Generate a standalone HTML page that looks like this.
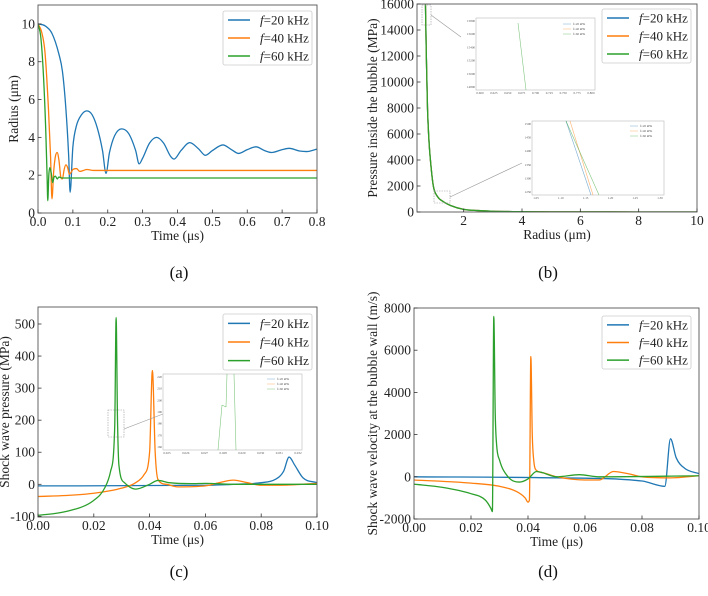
<!DOCTYPE html>
<html><head><meta charset="utf-8"><style>
body{margin:0;background:#fff;width:708px;height:591px;overflow:hidden}
svg{font-family:"Liberation Serif",serif}
</style></head><body>
<svg id="fig" width="708" height="591" viewBox="0 0 708 591"></svg>
<script>
// ---- Panel (a) data: radius vs time ----
const aBlueT=[0,0.02,0.04,0.06,0.07,0.08,0.088,0.092,0.1,0.11,0.125,0.14,0.155,0.17,0.185,0.195,0.205,0.22,0.24,0.26,0.28,0.29,0.3,0.32,0.34,0.36,0.38,0.39,0.41,0.435,0.46,0.48,0.5,0.53,0.555,0.575,0.6,0.625,0.65,0.67,0.7,0.72,0.75,0.77,0.8];
const aBlueR=[10,9.9,9.5,8.4,7.5,5.5,3,1.1,3.5,4.6,5.2,5.4,5.2,4.5,3.3,2.1,3.2,4.1,4.45,4.2,3.3,2.6,2.9,3.7,4.0,3.7,3.0,2.85,3.3,3.72,3.4,3.05,3.3,3.6,3.35,3.15,3.35,3.5,3.3,3.2,3.35,3.42,3.28,3.25,3.38];
const aOrangeT=[0,0.01,0.02,0.03,0.036,0.04,0.045,0.05,0.055,0.06,0.066,0.07,0.075,0.08,0.085,0.09,0.095,0.1,0.11,0.12,0.13,0.14,0.16,0.8];
const aOrangeR=[10,9.6,8.5,5.5,3,0.75,2.2,3.0,3.2,2.8,1.85,1.8,2.3,2.55,2.4,2.05,2.15,2.3,2.35,2.2,2.25,2.3,2.25,2.25];
const aGreenT=[0,0.008,0.015,0.022,0.026,0.028,0.031,0.034,0.038,0.042,0.046,0.05,0.055,0.06,0.07,0.8];
const aGreenR=[10,9.3,7.5,4.5,2,0.65,2,2.4,2.1,1.6,1.9,1.95,1.8,1.9,1.85,1.85];
const aXTicks=[0,0.1,0.2,0.3,0.4,0.5,0.6,0.7,0.8];
const aXLabels=["0.0","0.1","0.2","0.3","0.4","0.5","0.6","0.7","0.8"];
const aYTicks=[0,2,4,6,8,10];
// ---- Panel (b) data: pressure vs radius ----
const bR=[0.69,0.72,0.76,0.81,0.86,0.96,1.1,1.3,1.55,2,2.5,3,4,6,10];
const bP=[16000,12000,8000,5500,4000,2000,1200,800,500,200,110,60,25,6,1];
const bXTicks=[2,4,6,8,10];
const bYTicks=[0,2000,4000,6000,8000,10000,12000,14000,16000];
// ---- Panel (c) data: shock wave pressure ----
const cBlueT=[0,0.06,0.07,0.08,0.085,0.088,0.09,0.092,0.095,0.1];
const cBlueP=[-5,-3,0,5,15,40,85,60,20,5];
const cOrangeT=[0,0.01,0.02,0.03,0.035,0.038,0.04,0.041,0.042,0.043,0.046,0.05,0.06,0.065,0.07,0.075,0.08,0.09,0.1];
const cOrangeP=[-38,-35,-28,-12,5,30,100,355,100,15,0,-8,-5,5,13,5,-3,-2,3];
const cGreenT=[0,0.01,0.02,0.024,0.026,0.0275,0.028,0.0285,0.029,0.031,0.035,0.04,0.043,0.047,0.055,0.06,0.07,0.1];
const cGreenP=[-97,-85,-50,-10,40,180,520,200,60,5,-15,0,12,5,2,3,0,0];
const cXTicks=[0,0.02,0.04,0.06,0.08,0.1];
const cXLabels=["0.00","0.02","0.04","0.06","0.08","0.10"];
const cYTicks=[-100,0,100,200,300,400,500];
// ---- Panel (d) data: shock wave velocity ----
const dBlueT=[0,0.05,0.08,0.088,0.09,0.092,0.095,0.1];
const dBlueV=[0,-50,-200,-450,1800,900,400,150];
const dOrangeT=[0,0.02,0.03,0.036,0.039,0.04,0.0405,0.041,0.0415,0.042,0.043,0.045,0.05,0.06,0.065,0.07,0.075,0.08,0.09,0.1];
const dOrangeV=[-150,-300,-450,-700,-1000,-1200,-1100,5700,2000,800,300,200,0,-150,-150,250,150,0,-50,50];
const dGreenT=[0,0.01,0.02,0.025,0.027,0.0275,0.028,0.0285,0.029,0.03,0.033,0.037,0.04,0.043,0.045,0.05,0.058,0.065,0.1];
const dGreenV=[-350,-500,-800,-1100,-1500,-1650,7600,3000,1500,800,0,-250,-100,250,200,0,100,0,50];
const dYTicks=[-2000,0,2000,4000,6000,8000];
const legendLabels=["=20 kHz","=40 kHz","=60 kHz"];

const C={b:"#1f77b4",o:"#ff7f0e",g:"#2ca02c"};
const NS="http://www.w3.org/2000/svg";
const svg=document.getElementById('fig');
function mk(tag,attrs,parent){const e=document.createElementNS(NS,tag);for(const k in attrs)e.setAttribute(k,attrs[k]);(parent||svg).appendChild(e);return e;}

// monotone cubic path (Fritsch-Carlson) in pixel space
function monoPath(P){
  const n=P.length;if(n<2)return '';
  const d=[],m=[];
  for(let i=0;i<n-1;i++){const dx=P[i+1][0]-P[i][0];d.push(dx===0?0:(P[i+1][1]-P[i][1])/dx);}
  m[0]=d[0];m[n-1]=d[n-2];
  for(let i=1;i<n-1;i++){m[i]=(d[i-1]*d[i]<=0)?0:(d[i-1]+d[i])/2;}
  for(let i=0;i<n-1;i++){
    if(d[i]===0){m[i]=0;m[i+1]=0;continue;}
    const a=m[i]/d[i],b=m[i+1]/d[i],s=a*a+b*b;
    if(s>9){const t=3/Math.sqrt(s);m[i]=t*a*d[i];m[i+1]=t*b*d[i];}
  }
  let s='M'+P[0][0].toFixed(2)+','+P[0][1].toFixed(2);
  for(let i=0;i<n-1;i++){
    const h=(P[i+1][0]-P[i][0])/3;
    s+=' C'+(P[i][0]+h).toFixed(2)+','+(P[i][1]+m[i]*h).toFixed(2)+' '+(P[i+1][0]-h).toFixed(2)+','+(P[i+1][1]-m[i+1]*h).toFixed(2)+' '+P[i+1][0].toFixed(2)+','+P[i+1][1].toFixed(2);
  }
  return s;
}

function panel(cfg){
  const g=mk('g',{});
  
  
  const sx=v=>cfg.x0+(v-cfg.xmin)/(cfg.xmax-cfg.xmin)*(cfg.x1-cfg.x0);
  const sy=v=>cfg.y1-(v-cfg.ymin)/(cfg.ymax-cfg.ymin)*(cfg.y1-cfg.y0);
  const clip='clip-'+cfg.name;
  const cp=mk('clipPath',{id:clip},g);
  mk('rect',{x:cfg.x0,y:cfg.y0,width:cfg.x1-cfg.x0,height:cfg.y1-cfg.y0},cp);
  cfg.series.forEach(s=>{
    const pts=s.xs.map((x,i)=>[sx(x),sy(s.ys[i])]);
    const pl=mk('path',{d:monoPath(pts),fill:'none',stroke:s.color,'stroke-width':1.3,'clip-path':'url(#'+clip+')','stroke-linejoin':'round'},g);
    
    
  });
  const fr=mk('rect',{x:cfg.x0,y:cfg.y0,width:cfg.x1-cfg.x0,height:cfg.y1-cfg.y0,fill:'none',stroke:'#555','stroke-width':0.9},g);
  
  
  cfg.xt.forEach((t,i)=>{
    const X=sx(t);
    mk('line',{x1:X,x2:X,y1:cfg.y1,y2:cfg.y1-3.5,stroke:'#333','stroke-width':0.8},g);
    const tx=mk('text',{x:X,y:cfg.y1+13,'font-size':13.5,'text-anchor':'middle',fill:'#222'},g);
    tx.textContent=cfg.xl?cfg.xl[i]:String(t);
    
    
  });
  cfg.yt.forEach(t=>{
    const Y=sy(t);
    mk('line',{x1:cfg.x0,x2:cfg.x0+3.5,y1:Y,y2:Y,stroke:'#333','stroke-width':0.8},g);
    const tx=mk('text',{x:cfg.x0-3,y:Y+4.5,'font-size':13.5,'text-anchor':'end',fill:'#222'},g);
    tx.textContent=String(t);
    
    
  });
  const xl=mk('text',{x:(cfg.x0+cfg.x1)/2,y:cfg.y1+27,'font-size':13.5,'text-anchor':'middle',fill:'#222'},g);
  xl.textContent=cfg.xlabel;
  
  
  const yl=mk('text',{x:0,y:0,'font-size':13.5,'text-anchor':'middle',fill:'#222',transform:`translate(${cfg.ylx},${(cfg.y0+cfg.y1)/2}) rotate(-90)`},g);
  yl.textContent=cfg.ylabel;
  
  
  const L=cfg.leg;
  const lg=mk('g',{},g);
  
  
  mk('rect',{x:L[0],y:L[1],width:L[2]-L[0],height:L[3]-L[1],fill:'#fff',stroke:'#ccc','stroke-width':0.8,rx:2},lg);
  const cols=[C.b,C.o,C.g];
  const step=(L[3]-L[1])/3;
  cols.forEach((c,i)=>{
    const Y=L[1]+step*(i+0.5);
    mk('line',{x1:L[0]+5,x2:L[0]+27,y1:Y,y2:Y,stroke:c,'stroke-width':1.5},lg);
    const t=mk('text',{x:L[0]+37,y:Y+4.5,'font-size':13,fill:'#222'},lg);
    t.innerHTML='<tspan font-style="italic">f</tspan>'+legendLabels[i];
    
    
  });
  return {sx,sy,g};
}

panel({name:'panel-a',x0:38,x1:317,y0:5,y1:213,xmin:0,xmax:0.8,ymin:0,ymax:11,
  xt:aXTicks,xl:aXLabels,yt:aYTicks,xlabel:'Time (μs)',ylabel:'Radius (μm)',ylx:18,
  leg:[223,11,312,65],
  series:[{xs:aBlueT,ys:aBlueR,color:C.b,name:'line-20khz'},{xs:aOrangeT,ys:aOrangeR,color:C.o,name:'line-40khz'},{xs:aGreenT,ys:aGreenR,color:C.g,name:'line-60khz'}]});

const pb=panel({name:'panel-b',x0:417,x1:697,y0:4,y1:212,xmin:0.4,xmax:10,ymin:0,ymax:16000,
  xt:bXTicks,yt:bYTicks,xlabel:'Radius (μm)',ylabel:'Pressure inside the bubble (MPa)',ylx:377,
  leg:[602,9,691,63],
  series:[{xs:bR,ys:bP,color:C.b,name:'line-20khz'},{xs:bR,ys:bP,color:C.o,name:'line-40khz'},{xs:bR,ys:bP,color:C.g,name:'line-60khz'}]});

function inset(g,box,xl,yl,lines,legPos){
  const ig=mk('g',{},g);
  
  
  mk('rect',{x:box[0],y:box[1],width:box[2]-box[0],height:box[3]-box[1],fill:'#fff',stroke:'#bbb','stroke-width':0.6},ig);
  xl.forEach((t,i)=>{const X=box[0]+4+i*(box[2]-box[0]-8)/(xl.length-1);
    const e=mk('text',{x:X,y:box[3]+4,'font-size':3.2,'text-anchor':'middle',fill:'#555'},ig);e.textContent=t;});
  yl.forEach((t,i)=>{const Y=box[3]-3-i*(box[3]-box[1]-6)/(yl.length-1);
    const e=mk('text',{x:box[0]-1,y:Y+1,'font-size':3.2,'text-anchor':'end',fill:'#555'},ig);e.textContent=t;});
  lines.forEach(l=>mk('line',{x1:l[0],y1:l[1],x2:l[2],y2:l[3],stroke:l[4],'stroke-width':0.6,opacity:0.6},ig));
  ["f=20 kHz","f=40 kHz","f=60 kHz"].forEach((t,i)=>{
    const Y=legPos[1]+i*5;
    mk('line',{x1:legPos[0],x2:legPos[0]+8,y1:Y,y2:Y,stroke:[C.b,C.o,C.g][i],'stroke-width':0.5,opacity:0.6},ig);
    const e=mk('text',{x:legPos[0]+10,y:Y+1,'font-size':3.2,fill:'#555'},ig);e.textContent=t;});
}
const dash={fill:'none',stroke:'#999','stroke-width':0.6,'stroke-dasharray':'1.5,1'};
mk('rect',Object.assign({x:422,y:5,width:9,height:20},dash),pb.g);
mk('rect',Object.assign({x:434,y:191,width:16,height:12},dash),pb.g);
mk('line',{x1:431,y1:15,x2:461,y2:37,stroke:'#999','stroke-width':0.6},pb.g);
mk('line',{x1:450,y1:197,x2:522,y2:163,stroke:'#999','stroke-width':0.6},pb.g);
inset(pb.g,[476,18,595,90],["0.600","0.625","0.650","0.675","0.700","0.725","0.750","0.775","0.800"],["14800","15000","15200","15400","15600","15800"],
  [[518,23,526,90,C.g]],[563,24]);
inset(pb.g,[532,121,664,195],["1.05","1.10","1.15","1.20","1.25","1.30"],["1250","1300","1350","1400","1450","1500"],
  [[566,121,591,195,C.b],[570,121,593,195,C.o],[566,121,599,195,C.g]],[630,126]);

const pc=panel({name:'panel-c',x0:38,x1:317,y0:307,y1:517,xmin:0,xmax:0.1,ymin:-102,ymax:553,
  xt:cXTicks,xl:cXLabels,yt:cYTicks,xlabel:'Time (μs)',ylabel:'Shock wave pressure (MPa)',ylx:9,
  leg:[223,314,312,370],
  series:[{xs:cBlueT,ys:cBlueP,color:C.b,name:'line-20khz'},{xs:cOrangeT,ys:cOrangeP,color:C.o,name:'line-40khz'},{xs:cGreenT,ys:cGreenP,color:C.g,name:'line-60khz'}]});
mk('rect',Object.assign({x:108,y:410,width:16,height:27},dash),pc.g);
mk('line',{x1:124,y1:429,x2:163,y2:414,stroke:'#999','stroke-width':0.6},pc.g);
inset(pc.g,[163,374,302,450],["0.025","0.026","0.027","0.028","0.029","0.030","0.031","0.032"],["160","170","180","190","200","210","220"],
  [[218,450,222,405],[222,405,226,407],[226,407,227,374],[234,374,236,450]].map(a=>a.concat([C.g])),[267,379]);

panel({name:'panel-d',x0:414,x1:699,y0:308,y1:519,xmin:0,xmax:0.1,ymin:-2000,ymax:8000,
  xt:cXTicks,xl:cXLabels,yt:dYTicks,xlabel:'Time (μs)',ylabel:'Shock wave velocity at the bubble wall (m/s)',ylx:377,
  leg:[602,316,691,369],
  series:[{xs:dBlueT,ys:dBlueV,color:C.b,name:'line-20khz'},{xs:dOrangeT,ys:dOrangeV,color:C.o,name:'line-40khz'},{xs:dGreenT,ys:dGreenV,color:C.g,name:'line-60khz'}]});

[["(a)",179,278],["(b)",548,278],["(c)",179,577],["(d)",548,577]].forEach(a=>{
  const t=mk('text',{x:a[1],y:a[2],'font-size':17,'text-anchor':'middle',fill:'#111'});
  t.textContent=a[0];
  
  
});
</script>
</body></html>
